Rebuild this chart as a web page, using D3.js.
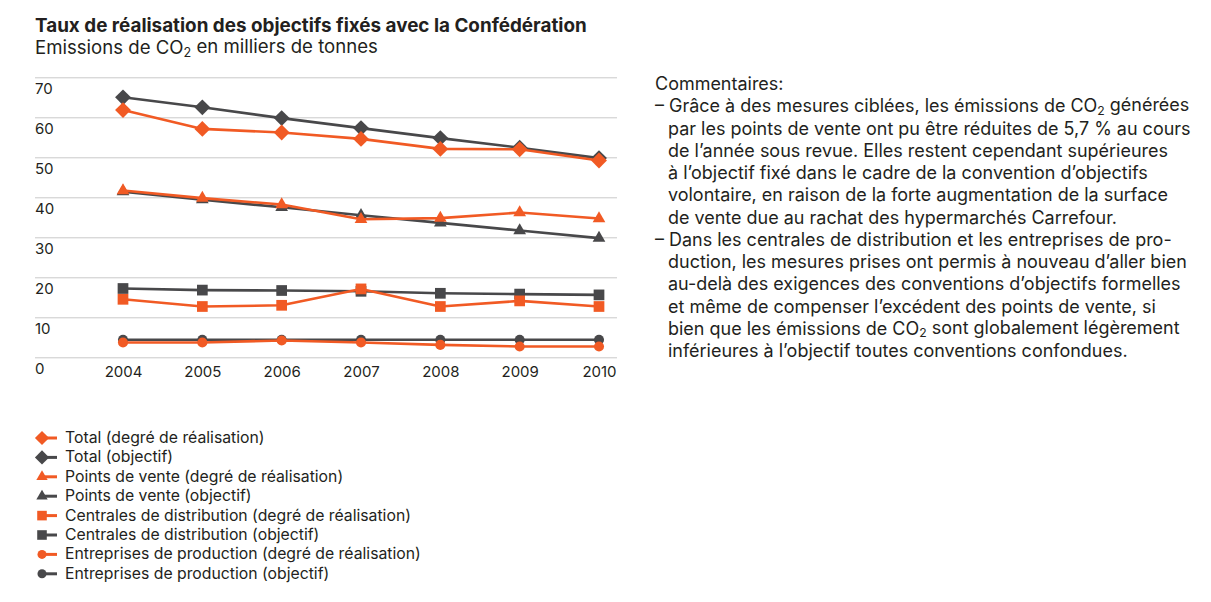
<!DOCTYPE html>
<html lang="fr">
<head>
<meta charset="utf-8">
<script src="https://cdn.jsdelivr.net/npm/d3@7"></script>
<style>
  html, body { margin: 0; padding: 0; background: #fff; }
  svg { display: block; font-family: Inter, "Noto Sans", sans-serif; }
</style>
</head>
<body>
<svg id="chart" width="1211" height="602"></svg>
<script>
// Years on the x axis
const years = ["2004", "2005", "2006", "2007", "2008", "2009", "2010"];
// Y axis tick values (milliers de tonnes)
const yTicks = [0, 10, 20, 30, 40, 50, 60, 70];

// CO2 emissions, thousands of tonnes
const totalRealisation       = [61.8, 57.1, 56.2, 54.6, 52.1, 52.0, 49.2];
const totalObjectif          = [65.0, 62.5, 59.8, 57.3, 54.8, 52.4, 49.8];
const ventesRealisation      = [41.7, 39.8, 38.2, 34.5, 34.8, 36.2, 34.7];
const ventesObjectif         = [41.4, 39.4, 37.5, 35.5, 33.6, 31.7, 29.8];
const centralesRealisation   = [14.5, 12.7, 13.0, 17.1, 12.7, 14.1, 12.7];
const centralesObjectif      = [17.2, 16.8, 16.7, 16.5, 16.0, 15.8, 15.6];
const entreprisesRealisation = [3.7, 3.7, 4.2, 3.7, 3.1, 2.7, 2.7];
const entreprisesObjectif    = [4.4, 4.4, 4.4, 4.4, 4.4, 4.4, 4.4];

const seriesNames = [
  "Total (degré de réalisation)",
  "Total (objectif)",
  "Points de vente (degré de réalisation)",
  "Points de vente (objectif)",
  "Centrales de distribution (degré de réalisation)",
  "Centrales de distribution (objectif)",
  "Entreprises de production (degré de réalisation)",
  "Entreprises de production (objectif)"
];

const ORANGE = "#f15a24";
const DARK = "#48484a";
const TEXT = "#231f20";

const series = [
  { name: seriesNames[0], values: totalRealisation,       color: ORANGE, symbol: d3.symbolDiamond2, size: 160 },
  { name: seriesNames[1], values: totalObjectif,          color: DARK,   symbol: d3.symbolDiamond2, size: 160 },
  { name: seriesNames[2], values: ventesRealisation,      color: ORANGE, symbol: d3.symbolTriangle, size: 70 },
  { name: seriesNames[3], values: ventesObjectif,         color: DARK,   symbol: d3.symbolTriangle, size: 70 },
  { name: seriesNames[4], values: centralesRealisation,   color: ORANGE, symbol: d3.symbolSquare,   size: 115 },
  { name: seriesNames[5], values: centralesObjectif,      color: DARK,   symbol: d3.symbolSquare,   size: 115 },
  { name: seriesNames[6], values: entreprisesRealisation, color: ORANGE, symbol: d3.symbolCircle,   size: 80 },
  { name: seriesNames[7], values: entreprisesObjectif,    color: DARK,   symbol: d3.symbolCircle,   size: 80 }
];

const svg = d3.select("#chart");

// Scale a text element's font size so that it spans the given width
function fitSize(node, base, width) {
  const w = node.getComputedTextLength();
  return base * width / w;
}

// Appends "CO₂"-style text: parts split by "|" with the middle part lowered
function richText(sel, str) {
  str.split("|").forEach((part, k) => {
    if (k === 1) sel.append("tspan").attr("font-size", "0.68em").attr("dy", "0.2em").text(part);
    else if (k === 2) sel.append("tspan").attr("dy", "-0.2em").text(part);
    else sel.append("tspan").text(part);
  });
  return sel;
}

// Title block
const title = svg.append("text")
  .attr("x", 35).attr("y", 32)
  .attr("font-size", 16).attr("font-weight", 700).attr("fill", TEXT)
  .text("Taux de réalisation des objectifs fixés avec la Confédération");
title.attr("font-size", fitSize(title.node(), 16, 552));

const sub = richText(svg.append("text")
  .attr("x", 35).attr("y", 54)
  .attr("font-size", 16).attr("fill", TEXT), "Emissions de CO|2| en milliers de tonnes");
sub.attr("font-size", fitSize(sub.node(), 16, 343));

// Scales
const x = d3.scalePoint().domain(years).range([123, 599]);
const y = d3.scaleLinear().domain([0, 70]).range([357.3, 77.3]);

// Horizontal gridlines with value labels under each line
const yAxis = d3.axisLeft(y).tickValues(yTicks).tickSize(0).tickFormat(d3.format("d"));
const yG = svg.append("g").attr("transform", "translate(35,0)").call(yAxis);
yG.select(".domain").remove();
yG.selectAll(".tick line")
  .attr("x2", 582).attr("stroke", "#c9c9c9").attr("stroke-width", 1);
yG.selectAll(".tick text")
  .attr("x", 0).attr("dy", 0).attr("y", 16)
  .attr("text-anchor", "start")
  .attr("font-size", 15).attr("font-family", "Inter, sans-serif")
  .attr("fill", TEXT);

// Year labels
const xAxis = d3.axisBottom(x).tickSize(0);
const xG = svg.append("g").attr("transform", "translate(0,357.3)").call(xAxis);
xG.select(".domain").remove();
xG.selectAll(".tick text")
  .attr("y", 20).attr("dy", 0)
  .attr("font-size", 15).attr("font-family", "Inter, sans-serif")
  .attr("fill", TEXT);

// Lines and markers: targets first, achieved values drawn over them
const line = d3.line().x((d, i) => x(years[i])).y(d => y(d));
const plot = svg.append("g");
const drawOrder = series.filter(s => s.color === DARK).concat(series.filter(s => s.color === ORANGE));
drawOrder.forEach(s => {
  const g = plot.append("g");
  g.append("path")
    .attr("d", line(s.values))
    .attr("fill", "none")
    .attr("stroke", s.color)
    .attr("stroke-width", 2.6)
    .attr("stroke-linejoin", "round");
  g.selectAll("path.m").data(s.values).join("path")
    .attr("class", "m")
    .attr("d", d3.symbol(s.symbol, s.size))
    .attr("transform", (d, i) => `translate(${x(years[i])},${y(d)})`)
    .attr("fill", s.color);
});

// Legend
const legend = svg.append("g");
const legendTexts = [];
series.forEach((s, i) => {
  const ly = 438 + i * 19.4;
  const row = legend.append("g").attr("transform", `translate(0,${ly})`);
  row.append("line").attr("x1", 42).attr("x2", 57).attr("y1", 0).attr("y2", 0)
    .attr("stroke", s.color).attr("stroke-width", 3);
  row.append("path")
    .attr("d", d3.symbol(s.symbol, s.size * 0.8))
    .attr("transform", "translate(42,0)")
    .attr("fill", s.color);
  legendTexts.push(row.append("text")
    .attr("x", 65).attr("y", 5)
    .attr("font-size", 14).attr("fill", TEXT)
    .text(s.name));
});
const legendSize = fitSize(legendTexts[6].node(), 14, 356);
legendTexts.forEach(t => t.attr("font-size", legendSize));

// Commentary
const notes = [
  { t: "Commentaires:", x: 655 },
  { t: "– Grâce à des mesures ciblées, les émissions de CO|2| générées", x: 655 },
  { t: "par les points de vente ont pu être réduites de 5,7 % au cours", x: 668 },
  { t: "de l’année sous revue. Elles restent cependant supérieures", x: 668 },
  { t: "à l’objectif fixé dans le cadre de la convention d’objectifs", x: 668 },
  { t: "volontaire, en raison de la forte augmentation de la surface", x: 668 },
  { t: "de vente due au rachat des hypermarchés Carrefour.", x: 668 },
  { t: "– Dans les centrales de distribution et les entreprises de pro-", x: 655 },
  { t: "duction, les mesures prises ont permis à nouveau d’aller bien", x: 668 },
  { t: "au-delà des exigences des conventions d’objectifs formelles", x: 668 },
  { t: "et même de compenser l’excédent des points de vente, si", x: 668 },
  { t: "bien que les émissions de CO|2| sont globalement légèrement", x: 668 },
  { t: "inférieures à l’objectif toutes conventions confondues.", x: 668 }
];
const notesG = svg.append("g");
const noteTexts = notes.map((n, i) => richText(notesG.append("text")
    .attr("x", n.x).attr("y", 90 + i * 22.25)
    .attr("font-size", 16).attr("fill", TEXT), n.t));
const noteSize = fitSize(noteTexts[2].node(), 16, 523);
noteTexts.forEach(t => t.attr("font-size", noteSize));
</script>
</body>
</html>
